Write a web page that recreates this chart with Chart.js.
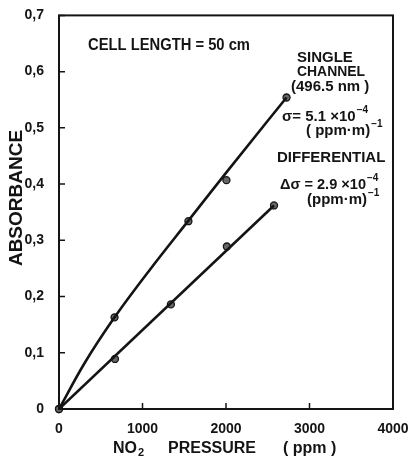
<!DOCTYPE html>
<html>
<head>
<meta charset="utf-8"/>
<style>
  body { margin: 0; padding: 0; background: #fff; }
  #wrap { width: 413px; height: 463px; }
</style>
</head>
<body>
<div id="wrap"><canvas id="c" width="413" height="463"></canvas></div>
<script src="https://cdn.jsdelivr.net/npm/chart.js@4/dist/chart.umd.min.js"></script>
<script>
// measured points, single channel (496.5 nm)
var singleP = [0, 665, 1550, 2005, 2725];
var singleA = [0, 0.163, 0.334, 0.407, 0.554];
// drawn fit curve
var singleFitP = [0, 300, 665, 1100, 1550, 2000, 2725];
var singleFitA = [0, 0.08, 0.163, 0.25, 0.335, 0.42, 0.554];
// measured points, differential
var diffP = [0, 670, 1340, 2010, 2575];
var diffA = [0, 0.089, 0.186, 0.289, 0.362];
// drawn fit line
var diffFitP = [0, 2575];
var diffFitA = [0, 0.362];

var yTickLabels = ['0', '0,1', '0,2', '0,3', '0,4', '0,5', '0,6', '0,7'];
var xTickLabels = ['0', '1000', '2000', '3000', '4000'];

function pts(xs, ys) {
  return xs.map(function(x, i) { return {x: x, y: ys[i]}; });
}

var INK = '#141414';
var FONT = '"Liberation Sans", Arial, sans-serif';

// draws bold text, returns x where it ends
function txt(ctx, s, x, y, size, maxW) {
  ctx.font = 'bold ' + size + 'px ' + FONT;
  var w = ctx.measureText(s).width;
  if (maxW && w > maxW) { ctx.fillText(s, x, y, maxW); w = maxW; }
  else ctx.fillText(s, x, y);
  return x + w;
}

var framePlugin = {
  id: 'frame',
  afterDraw: function(chart) {
    var ctx = chart.ctx, a = chart.chartArea;
    var xs = chart.scales.x, ys = chart.scales.y;
    var e;
    ctx.save();
    ctx.strokeStyle = INK;
    ctx.lineWidth = 2;
    ctx.strokeRect(a.left, a.top, a.right - a.left, a.bottom - a.top);
    // inward ticks
    ctx.lineWidth = 1.5;
    ctx.beginPath();
    ys.ticks.forEach(function(t) {
      var py = ys.getPixelForValue(t.value);
      ctx.moveTo(a.left, py); ctx.lineTo(a.left + 6, py);
    });
    xs.ticks.forEach(function(t) {
      var px = xs.getPixelForValue(t.value);
      ctx.moveTo(px, a.bottom); ctx.lineTo(px, a.bottom - 6);
    });
    ctx.stroke();

    ctx.fillStyle = INK;
    ctx.textBaseline = 'middle';
    ctx.textAlign = 'left';
    txt(ctx, 'CELL LENGTH = 50 cm', 88, 46, 16, 162);

    txt(ctx, 'SINGLE', 297, 58, 15, 56);
    txt(ctx, 'CHANNEL', 297, 72, 15, 68);
    txt(ctx, '(496.5 nm )', 291, 87, 15, 88);
    e = txt(ctx, '\u03c3= 5.1 \u00d710', 282, 117, 15, 80);
    txt(ctx, '\u22124', e + 1, 110, 10);
    e = txt(ctx, '( ppm\u00b7m)', 306, 131, 15, 66);
    txt(ctx, '\u22121', e + 1, 124, 10);

    txt(ctx, 'DIFFERENTIAL', 277, 158, 15, 111);
    e = txt(ctx, '\u0394\u03c3 = 2.9 \u00d710', 280, 185, 15, 86);
    txt(ctx, '\u22124', e + 1, 178, 10);
    e = txt(ctx, '(ppm\u00b7m)', 307, 200, 15, 62);
    txt(ctx, '\u22121', e + 1, 193, 10);

    // axis titles
    e = txt(ctx, 'NO', 113, 449, 16);
    txt(ctx, '2', e + 1, 453, 11);
    txt(ctx, 'PRESSURE', 168, 449, 16, 97);
    txt(ctx, '( ppm )', 283, 449, 16, 75);

    ctx.translate(17, 198);
    ctx.rotate(-Math.PI / 2);
    ctx.textAlign = 'center';
    txt(ctx, 'ABSORBANCE', 0, 0, 19, 137);
    ctx.restore();
  }
};

var lineStyle = {borderColor: INK, borderWidth: 2.6, pointRadius: 0, fill: false};
var markStyle = {showLine: false, pointRadius: 3.5, pointBackgroundColor: '#666',
                 pointBorderColor: INK, pointBorderWidth: 1.3, clip: false};

new Chart(document.getElementById('c'), {
  type: 'scatter',
  data: {
    datasets: [
      Object.assign({label: 'single fit', data: pts(singleFitP, singleFitA), showLine: true,
                     cubicInterpolationMode: 'monotone'}, lineStyle),
      Object.assign({label: 'differential fit', data: pts(diffFitP, diffFitA), showLine: true}, lineStyle),
      Object.assign({label: 'single channel', data: pts(singleP, singleA)}, markStyle),
      Object.assign({label: 'differential', data: pts(diffP, diffA)}, markStyle)
    ]
  },
  options: {
    responsive: false,
    animation: false,
    layout: {padding: {top: 15, right: 20, left: 0, bottom: 0}},
    plugins: {legend: {display: false}, tooltip: {enabled: false}},
    scales: {
      x: {
        type: 'linear', min: 0, max: 4000,
        grid: {display: false}, border: {display: false},
        ticks: {stepSize: 1000, padding: 4, color: INK,
                font: {family: FONT, size: 14, weight: 'bold'},
                callback: function(v, i) { return xTickLabels[i]; }},
        afterFit: function(s) { s.height = 54; }
      },
      y: {
        type: 'linear', min: 0, max: 0.7,
        grid: {display: false}, border: {display: false},
        ticks: {stepSize: 0.1, padding: 7, color: INK,
                font: {family: FONT, size: 14, weight: 'bold'},
                callback: function(v, i) { return yTickLabels[i]; }},
        afterFit: function(s) { s.width = 59; }
      }
    }
  },
  plugins: [framePlugin]
});
</script>
</body>
</html>
